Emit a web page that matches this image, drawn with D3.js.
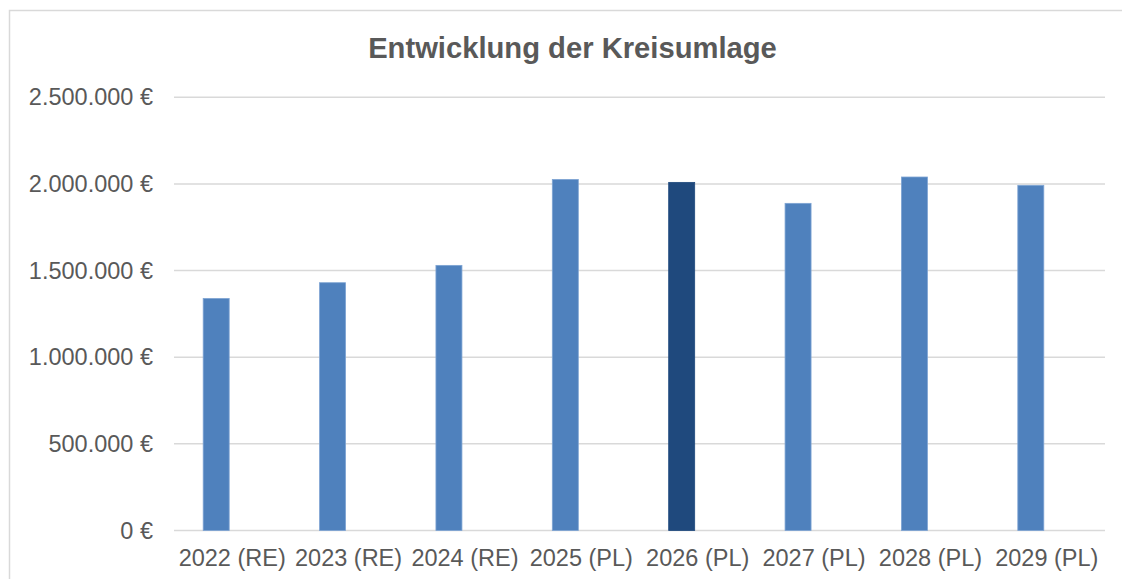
<!DOCTYPE html>
<html>
<head>
<meta charset="utf-8">
<script src="https://cdn.jsdelivr.net/npm/d3@7"></script>
<style>
  body { margin: 0; background: #fff; }
  svg { display: block; font-family: "Liberation Sans", Arial, sans-serif; }
</style>
</head>
<body>
<div id="graph"></div>
<script>
"use strict";

var width = 1122,
    height = 579;

// Daten
const jahre = ["2022 (RE)", "2023 (RE)", "2024 (RE)", "2025 (PL)", "2026 (PL)", "2027 (PL)", "2028 (PL)", "2029 (PL)"];
const kreisumlage = [1339000, 1430000, 1530000, 2026000, 2009000, 1888000, 2040000, 1992000];
const yTicks = [0, 500000, 1000000, 1500000, 2000000, 2500000];
const hervorgehoben = "2026 (PL)";

const de = d3.formatLocale({ decimal: ",", thousands: ".", grouping: [3], currency: ["", " €"] });
const euro = de.format("$,.0f");

let svg = d3.select("#graph")
    .append("svg")
    .attr("width", width)
    .attr("height", height);

// Rahmen
svg.append("rect")
    .attr("x", 9.5).attr("y", 10.5)
    .attr("width", width + 20).attr("height", height + 20)
    .attr("fill", "none")
    .attr("stroke", "#d9d9d9")
    .attr("stroke-width", 1.5);

svg.append("text")
    .attr("x", 572.5)
    .attr("y", 58)
    .attr("text-anchor", "middle")
    .attr("font-size", "29.2px")
    .attr("font-weight", "bold")
    .attr("fill", "#595959")
    .text("Entwicklung der Kreisumlage");

let x = d3.scaleBand()
    .domain(jahre)
    .range([174, 1105]);

// zweite (leere) Reihe wie im Original, daher sitzen die Balken links der Mitte
let xSub = d3.scaleBand()
    .domain(["ist", "leer"])
    .range([x.bandwidth() / 2 - 29, x.bandwidth() / 2 + 29])
    .paddingInner(0.1875);

let y = d3.scaleLinear()
    .domain([0, 2500000])
    .range([530.5, 97.3]);

// Gitterlinien
svg.append("g")
    .selectAll("line")
    .data(yTicks)
    .enter()
    .append("line")
    .attr("x1", 174)
    .attr("x2", 1105)
    .attr("y1", d => y(d))
    .attr("y2", d => y(d))
    .attr("stroke", "#d9d9d9")
    .attr("stroke-width", 1.5);

let yAxis = svg.append("g")
    .attr("transform", "translate(153,0)")
    .call(d3.axisLeft(y).tickValues(yTicks).tickFormat(euro).tickSize(0).tickPadding(0));
yAxis.select(".domain").remove();
yAxis.selectAll("text")
    .attr("font-size", "23.5px")
    .attr("font-family", "Liberation Sans, Arial, sans-serif")
    .attr("fill", "#595959");

let xAxis = svg.append("g")
    .attr("transform", "translate(0,530.5)")
    .call(d3.axisBottom(x).tickSize(0).tickPadding(19));
xAxis.select(".domain").remove();
xAxis.selectAll("text")
    .attr("font-size", "23.5px")
    .attr("font-family", "Liberation Sans, Arial, sans-serif")
    .attr("fill", "#595959");

svg.append("g")
    .selectAll("rect")
    .data(jahre.map((j, i) => ({ jahr: j, wert: kreisumlage[i] })))
    .enter()
    .append("rect")
    .attr("x", d => x(d.jahr) + xSub("ist"))
    .attr("width", xSub.bandwidth())
    .attr("y", d => y(d.wert))
    .attr("height", d => y(0) - y(d.wert))
    .attr("fill", d => d.jahr === hervorgehoben ? "#1f497d" : "#4f81bd")
    .attr("stroke", d => d.jahr === hervorgehoben ? "#1f497d" : "#7ea4d3")
    .attr("stroke-width", 0.8);
</script>
</body>
</html>
